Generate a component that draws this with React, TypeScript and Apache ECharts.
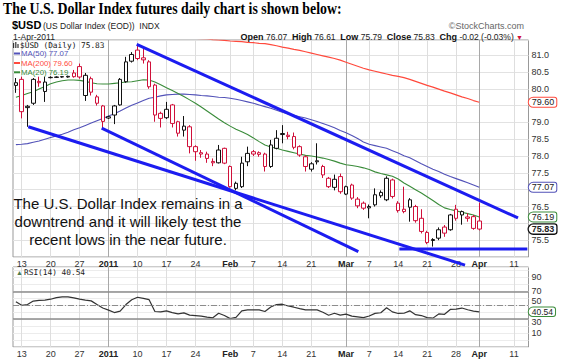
import React, { useEffect, useRef } from "react";
import * as echarts from "echarts";

// ---------- categories (weekdays, Dec 10 2010 .. Apr 13 2011) ----------
const firstDay = "2010-12-10";
const dayCount = 89;
function buildWeekdays(start: string, n: number): string[] {
  const out: string[] = [];
  const d = new Date(start + "T00:00:00Z");
  while (out.length < n) {
    const wd = d.getUTCDay();
    if (wd !== 0 && wd !== 6) out.push(d.toISOString().slice(0, 10));
    d.setUTCDate(d.getUTCDate() + 1);
  }
  return out;
}
const categories = buildWeekdays(firstDay, dayCount);

// ---------- tick labels ----------
const tickDates = [
  "2010-12-13", "2010-12-20", "2010-12-27", "2011-01-03", "2011-01-10", "2011-01-17",
  "2011-01-24", "2011-02-01", "2011-02-07", "2011-02-14", "2011-02-21", "2011-03-01",
  "2011-03-07", "2011-03-14", "2011-03-21", "2011-03-28", "2011-04-01", "2011-04-11",
];
const tickTexts = ["13", "20", "27", "2011", "10", "17", "24", "Feb", "7", "14", "21", "Mar", "7", "14", "21", "28", "Apr", "11"];
const boldTickTexts = ["2011", "Feb", "Mar", "Apr"];
const majorDates = ["2011-01-03", "2011-03-01", "2011-04-01"];
const rsiTickLabels = [10, 30, 50, 70, 90];

// ---------- price data (Dec 10 2010 .. Apr 1 2011) ----------
const opens = [
  80.10, 80.28, 79.48, 79.57, 80.22, 79.92, 80.33, 80.34, 80.35, 80.35,
  80.47, 80.66, 79.80, 80.30, 79.76, 79.49, 79.17, 79.22, 79.52, 80.21,
  80.82, 81.15, 80.92, 80.80, 80.11, 79.27, 79.14, 79.52, 79.02, 78.77,
  78.87, 78.28, 78.10, 78.06, 77.84, 77.80, 78.23, 77.69, 77.04, 77.09,
  77.83, 78.13, 78.10, 78.06, 77.69, 78.23, 78.67, 78.58, 78.58, 78.28,
  77.98, 77.61, 77.86, 77.69, 77.34, 77.07, 77.39, 76.87, 77.14, 76.72,
  76.60, 76.50, 76.55, 76.82, 76.70, 77.29, 76.60, 76.42, 76.48, 76.50,
  76.15, 75.73, 75.52, 75.56, 75.89, 75.81, 76.42, 76.25, 76.19, 76.20,
  76.07,
];
const closes = [
  80.18, 79.32, 79.44, 80.28, 80.18, 80.20, 80.34, 80.35, 80.36, 80.37,
  80.36, 80.35, 80.40, 79.90, 79.57, 79.03, 79.13, 79.49, 80.28, 80.80,
  81.02, 80.90, 80.86, 80.06, 79.22, 79.12, 79.39, 78.97, 78.68, 78.89,
  78.28, 78.13, 78.06, 77.93, 77.80, 78.18, 77.79, 77.09, 77.19, 77.79,
  78.08, 78.06, 78.05, 77.69, 78.33, 78.53, 78.64, 78.62, 78.26, 78.03,
  77.69, 77.77, 77.83, 77.44, 77.09, 77.31, 76.94, 77.09, 76.75, 76.52,
  76.45, 76.46, 76.85, 76.92, 77.34, 76.80, 76.38, 76.35, 76.70, 76.08,
  75.76, 75.43, 75.49, 75.81, 75.71, 76.25, 76.15, 76.35, 76.15, 75.85,
  75.83,
];
const lows = [
  79.88, 79.12, 78.87, 79.52, 80.06, 79.61, 80.31, 80.32, 80.33, 80.33,
  80.33, 80.30, 79.64, 79.80, 79.50, 78.82, 79.10, 78.95, 79.50, 80.18,
  80.78, 80.85, 80.75, 80.00, 79.02, 78.85, 79.10, 78.85, 78.58, 78.58,
  78.08, 77.86, 77.95, 77.80, 77.70, 77.78, 77.76, 77.06, 76.98, 77.05,
  77.70, 78.00, 77.98, 77.54, 77.65, 78.20, 78.38, 78.50, 78.20, 77.98,
  77.54, 77.54, 77.75, 77.35, 77.05, 76.98, 76.88, 76.84, 76.70, 76.45,
  76.40, 76.15, 76.50, 76.76, 76.66, 76.74, 76.32, 76.30, 76.05, 76.02,
  75.70, 75.38, 75.31, 75.50, 75.60, 75.78, 76.08, 75.96, 76.05, 75.81,
  75.79,
];
const highs = [
  80.32, 80.36, 79.52, 80.32, 80.36, 80.36, 80.37, 80.37, 80.38, 80.39,
  80.56, 80.75, 80.47, 80.36, 79.82, 79.52, 79.20, 79.52, 80.32, 80.95,
  81.09, 81.32, 81.20, 80.85, 80.15, 79.32, 79.61, 79.55, 79.05, 79.19,
  78.92, 78.32, 78.18, 78.13, 77.93, 78.33, 78.25, 77.72, 77.24, 77.98,
  78.28, 78.18, 78.14, 78.10, 78.48, 78.77, 78.92, 78.72, 78.70, 78.32,
  78.02, 77.82, 78.38, 77.74, 77.38, 77.45, 77.48, 77.12, 77.18, 76.78,
  76.65, 76.56, 77.04, 76.98, 77.40, 77.33, 76.66, 77.09, 76.75, 76.55,
  76.42, 75.78, 75.56, 75.88, 75.95, 76.28, 76.55, 76.38, 76.30, 76.25,
  76.61,
];

// ---------- moving averages ----------
const ma20 = [
  79.75, 79.80, 79.86, 79.91, 79.99, 80.07, 80.15, 80.20, 80.24, 80.26,
  80.26, 80.25, 80.22, 80.18, 80.15, 80.14, 80.14, 80.16, 80.18, 80.20,
  80.21, 80.24, 80.27, 80.26, 80.20, 80.12, 80.03, 79.95, 79.86, 79.77,
  79.67, 79.57, 79.46, 79.34, 79.22, 79.10, 78.99, 78.89, 78.80, 78.72,
  78.64, 78.54, 78.43, 78.33, 78.27, 78.23, 78.18, 78.14, 78.10, 78.06,
  78.02, 78.00, 77.97, 77.94, 77.90, 77.85, 77.79, 77.74, 77.72, 77.69,
  77.65, 77.60, 77.53, 77.48, 77.44, 77.40, 77.32, 77.20, 77.10, 77.00,
  76.90, 76.79, 76.68, 76.56, 76.46, 76.41, 76.37, 76.33, 76.29, 76.25,
  76.19,
];
const ma50 = [
  78.34, 78.35, 78.37, 78.41, 78.45, 78.50, 78.55, 78.60, 78.65, 78.71,
  78.78, 78.84, 78.91, 78.98, 79.05, 79.12, 79.19, 79.26, 79.34, 79.43,
  79.51, 79.58, 79.65, 79.72, 79.75, 79.79, 79.82, 79.83, 79.84, 79.84,
  79.83, 79.82, 79.80, 79.79, 79.77, 79.75, 79.74, 79.72, 79.69, 79.65,
  79.61, 79.57, 79.52, 79.47, 79.42, 79.36, 79.30, 79.25, 79.21, 79.17,
  79.13, 79.08, 79.03, 78.97, 78.91, 78.84, 78.76, 78.69, 78.61, 78.52,
  78.42, 78.35, 78.31, 78.27, 78.23, 78.16, 78.09, 78.01, 77.95, 77.86,
  77.77, 77.69, 77.61, 77.54, 77.46, 77.39, 77.33, 77.27, 77.21, 77.14,
  77.07,
];
const ma200 = [
  null, null, null, null, null, null, null, null, null, null,
  null, null, null, null, null, null, null, null, null, null,
  null, null, null, null, null, null, null, null, null, null,
  81.52, 81.50, 81.49, 81.48, 81.46, 81.45, 81.44, 81.42, 81.41, 81.40,
  81.38, 81.37, 81.35, 81.34, 81.31, 81.28, 81.24, 81.21, 81.17, 81.14,
  81.10, 81.06, 81.02, 80.98, 80.94, 80.90, 80.85, 80.79, 80.73, 80.67,
  80.61, 80.56, 80.52, 80.48, 80.44, 80.40, 80.37, 80.33, 80.28, 80.22,
  80.16, 80.10, 80.05, 79.99, 79.93, 79.88, 79.82, 79.76, 79.71, 79.65,
  79.60,
];

// ---------- RSI(14) ----------
const rsi = [
  55, 50, 51, 56, 57, 57.5, 58.7, 61, 62, 62,
  60.5, 58.7, 57.3, 56.3, 51, 46, 43, 39.5, 41.5, 51,
  58, 61.5, 60, 58, 41, 40.5, 42, 39.5, 37.5, 39,
  35.8, 35.2, 34.5, 33, 32, 38.5, 35.3, 30.8, 32.5, 42,
  43.3, 43.3, 43.3, 41, 47.5, 51, 51.5, 49, 47.2, 45.2,
  43.3, 43.3, 43.3, 40, 35.6, 38.5, 35.8, 37.3, 34.3, 33.3,
  32.2, 34.5, 38.3, 39.2, 46.5, 40.5, 38.2, 38.5, 42, 36.5,
  35.2, 32.2, 31.5, 37.5, 37, 44, 44.4, 46, 43.5, 41.5,
  40.54,
];

// ---------- hand-drawn trend lines (x = trading-day index, y = price) ----------
const resistanceLine = [[20.86, 81.32], [86.69, 76.16]];
const supportLineA = [[2.14, 78.87], [77.54, 74.76]];
const supportLineB = [[14.81, 78.83], [59.12, 75.16]];
const recentLowsLine = [[66.2, 75.24], [88.3, 75.24]];

// ---------- last values ----------
const lastDate = "2011-04-01";
const lastClose = 75.83;
const lastMa50 = 77.07;
const lastMa200 = 79.6;
const lastMa20 = 76.19;
const lastRsi = 40.54;

const RED = "#d0103a";
const BLACK = "#111111";
const MA50_COLOR = "#5252b8";
const MA200_COLOR = "#ff4a3d";
const MA20_COLOR = "#3a8c3a";
const TREND_COLOR = "#1c1cf0";
const FONT = "'Liberation Sans', Arial, sans-serif";
const MONO = "'DejaVu Sans Mono', monospace";

function tag(cat: string, val: number, text: string, border: string, bold = false, size = 9) {
  return {
    symbol: "circle",
    symbolSize: 1,
    silent: true,
    itemStyle: { color: "rgba(0,0,0,0)" },
    label: {
      show: true,
      position: "right",
      distance: 0,
      offset: [49, 0],
      formatter: text,
      color: "#222",
      fontSize: size,
      fontFamily: FONT,
      fontWeight: bold ? "bold" : "normal",
      backgroundColor: "#fff",
      borderColor: border,
      borderWidth: bold ? 1.3 : 1,
      borderRadius: [5, 2, 2, 5],
      padding: [0, 2, 0, 3],
      lineHeight: size,
    },
    data: [{ coord: [cat, val] }],
  };
}

function catAxis(gridIndex: number, withLabels: boolean, major: boolean) {
  return {
    type: "category",
    gridIndex,
    data: categories,
    boundaryGap: true,
    axisLine: { show: false },
    axisTick: { show: false },
    axisLabel: withLabels
      ? {
          show: true,
          interval: (_i: number, v: string) => tickDates.indexOf(v) >= 0,
          formatter: (v: string) => {
            const k = tickDates.indexOf(v);
            if (k < 0) return "";
            const t = tickTexts[k];
            return boldTickTexts.indexOf(t) >= 0 ? "{b|" + t + "}" : t;
          },
          fontSize: 9,
          color: "#333",
          fontFamily: FONT,
          margin: 2,
          rich: { b: { fontWeight: "bold", fontSize: 9, color: "#222", fontFamily: FONT } },
        }
      : { show: false },
    splitLine: {
      show: true,
      alignWithLabel: true,
      interval: (_i: number, v: string) =>
        major ? majorDates.indexOf(v) >= 0 : tickDates.indexOf(v) >= 0 && majorDates.indexOf(v) < 0,
      lineStyle: { color: major ? "#a8a8a8" : "#dedede", width: 1 },
    },
  };
}

function txt(x: number, y: number, text: string, size: number, opts: any = {}) {
  return {
    type: "text",
    x,
    y,
    z: 20,
    scaleX: opts.scaleX || 1,
    style: {
      text,
      fill: opts.fill || "#111",
      fontSize: size,
      fontFamily: opts.family || FONT,
      fontWeight: opts.weight || "normal",
      textAlign: opts.align || "left",
      align: opts.align || "left",
      textVerticalAlign: "middle",
      verticalAlign: "middle",
      rich: opts.rich,
    },
  };
}

function buildOption(): any {
  const candleData = opens.map((o, i) => {
    const c = closes[i];
    const prev = i > 0 ? closes[i - 1] : c;
    const col = c < prev ? RED : BLACK;
    return {
      value: [o, c, lows[i], highs[i]],
      itemStyle: { color: "#fff", color0: col, borderColor: col, borderColor0: col, borderColorDoji: col, borderWidth: 1 },
    };
  });

  const trend = (data: number[][]) => ({
    type: "line",
    xAxisIndex: 2,
    yAxisIndex: 0,
    data,
    symbol: "none",
    clip: false,
    silent: true,
    z: 6,
    lineStyle: { color: TREND_COLOR, width: 3 },
  });

  const ohlcText =
    "{b|Open} 76.07  {b|High} 76.61  {b|Low} 75.79  {b|Close} 75.83  {b|Chg} -0.02 (-0.03%) {r|▼}";

  return {
    animation: false,
    backgroundColor: "#fff",
    textStyle: { fontFamily: FONT },
    grid: [
      { left: 13, top: 40, width: 515.5, height: 217, show: true, borderColor: "#999", borderWidth: 1, backgroundColor: "rgba(0,0,0,0)" },
      { left: 13, top: 267, width: 515.5, height: 80, show: true, borderColor: "#999", borderWidth: 1, backgroundColor: "rgba(0,0,0,0)" },
    ],
    xAxis: [
      catAxis(0, true, false),
      catAxis(0, false, true),
      { type: "value", gridIndex: 0, min: -0.5, max: dayCount - 0.5, show: false },
      catAxis(1, true, false),
      catAxis(1, false, true),
    ],
    yAxis: [
      {
        type: "value",
        gridIndex: 0,
        position: "right",
        min: 75,
        max: 81.45,
        interval: 0.5,
        axisLine: { show: false },
        axisTick: { show: false },
        axisLabel: {
          margin: 3,
          fontSize: 9,
          color: "#333",
          fontFamily: FONT,
          formatter: (v: number) => {
            const twice = v * 2;
            if (Math.abs(twice - Math.round(twice)) > 1e-6) return "";
            const hidden = [75, 76, 77, 79.5];
            for (const h of hidden) if (Math.abs(v - h) < 1e-6) return "";
            return v.toFixed(1);
          },
        },
        splitLine: { show: true, lineStyle: { color: "#e2e2e2" } },
      },
      {
        type: "value",
        gridIndex: 1,
        position: "right",
        min: -10,
        max: 105,
        interval: 10,
        axisLine: { show: false },
        axisTick: { show: false },
        axisLabel: {
          margin: 3,
          fontSize: 9,
          color: "#333",
          fontFamily: FONT,
          formatter: (v: number) => {
            const r = Math.round(v);
            if (Math.abs(v - r) > 1e-6 || rsiTickLabels.indexOf(r) < 0) return "";
            if (r === 50) return "{u|50}";
            if (r === 30) return "{d|30}";
            return String(r);
          },
          rich: {
            u: { fontSize: 9, color: "#333", fontFamily: FONT, padding: [0, 0, 8, 0] },
            d: { fontSize: 9, color: "#333", fontFamily: FONT, padding: [5, 0, 0, 0] },
          },
        },
        splitLine: { show: true, lineStyle: { color: "#ececec" } },
      },
    ],
    series: [
      {
        name: "MA(200)",
        type: "line",
        xAxisIndex: 0,
        yAxisIndex: 0,
        data: ma200,
        symbol: "none",
        lineStyle: { color: MA200_COLOR, width: 1.2 },
        markPoint: tag(lastDate, lastMa200, "79.60", MA200_COLOR),
      },
      {
        name: "MA(50)",
        type: "line",
        xAxisIndex: 0,
        yAxisIndex: 0,
        data: ma50,
        symbol: "none",
        lineStyle: { color: MA50_COLOR, width: 1.1 },
        markPoint: tag(lastDate, lastMa50, "77.07", MA50_COLOR),
      },
      {
        name: "MA(20)",
        type: "line",
        xAxisIndex: 0,
        yAxisIndex: 0,
        data: ma20,
        symbol: "none",
        lineStyle: { color: MA20_COLOR, width: 1.1 },
        markPoint: tag(lastDate, lastMa20, "76.19", MA20_COLOR),
      },
      {
        name: "$USD",
        type: "candlestick",
        xAxisIndex: 0,
        yAxisIndex: 0,
        data: candleData,
        barWidth: 4,
        z: 3,
        markPoint: tag(lastDate, lastClose, "75.83", "#111", true),
      },
      trend(resistanceLine),
      trend(supportLineA),
      trend(supportLineB),
      trend(recentLowsLine),
      {
        name: "RSI(14)",
        type: "line",
        xAxisIndex: 3,
        yAxisIndex: 1,
        data: rsi,
        symbol: "none",
        z: 4,
        lineStyle: { color: "#333", width: 1.2 },
        markLine: {
          silent: true,
          symbol: ["none", "none"],
          label: { show: false },
          lineStyle: { color: "#8c8c8c", width: 1.5, type: "solid" },
          data: [
            { yAxis: 70 },
            { yAxis: 30 },
            { yAxis: 50, lineStyle: { color: "#8c8c8c", width: 1, type: [6, 2, 1, 2] } },
          ],
        },
        markPoint: tag(lastDate, lastRsi, "40.54", MA20_COLOR, false, 8.5),
      },
    ],
    graphic: [
      txt(3, 8.5, "The U.S. Dollar Index futures daily chart is shown below:", 16, {
        family: "'Liberation Serif', 'Times New Roman', serif",
        weight: "bold",
        scaleX: 0.865,
        fill: "#000",
      }),
      txt(12, 25, "$USD", 11, { weight: "bold", fill: "#000" }),
      txt(43, 25.5, "(US Dollar Index (EOD))  INDX", 8.5, { fill: "#222" }),
      txt(524, 25.5, "©StockCharts.com", 9, { align: "right", fill: "#666" }),
      txt(13, 37, "1-Apr-2011", 8.5, { fill: "#222" }),
      txt(523, 37, ohlcText, 8.5, {
        align: "right",
        fill: "#222",
        rich: {
          b: { fontWeight: "bold", fontSize: 9, fontFamily: FONT, fill: "#111", color: "#111" },
          r: { fontSize: 7, fill: RED, color: RED, fontFamily: FONT },
        },
      }),
      // price legend
      { type: "rect", z: 20, shape: { x: 13, y: 43, width: 1.2, height: 5 }, style: { fill: "#333" } },
      { type: "rect", z: 20, shape: { x: 15.2, y: 42, width: 1.2, height: 6 }, style: { fill: "#333" } },
      { type: "rect", z: 20, shape: { x: 17.4, y: 44, width: 1.2, height: 4 }, style: { fill: "#333" } },
      txt(20, 45.5, "$USD (Daily) 75.83", 7.8, { family: MONO, fill: "#111" }),
      { type: "line", z: 20, shape: { x1: 14, y1: 53.5, x2: 20, y2: 53.5 }, style: { stroke: MA50_COLOR, lineWidth: 2 } },
      txt(21, 53.5, "MA(50) 77.07", 7.8, { fill: MA50_COLOR }),
      { type: "line", z: 20, shape: { x1: 14, y1: 63, x2: 20, y2: 63 }, style: { stroke: MA200_COLOR, lineWidth: 2 } },
      txt(21, 63, "MA(200) 79.60", 7.8, { fill: MA200_COLOR }),
      { type: "line", z: 20, shape: { x1: 14, y1: 72.3, x2: 20, y2: 72.3 }, style: { stroke: MA20_COLOR, lineWidth: 2 } },
      txt(21, 72.3, "MA(20) 76.19", 7.8, { fill: MA20_COLOR }),
      // RSI legend
      txt(16, 272.5, "▲", 7, { fill: "#4d7a4d" }),
      txt(24, 272.8, "RSI(14) 40.54", 7.8, { family: MONO, fill: "#222" }),
      // annotation
      txt(128, 203, "The U.S. Dollar Index remains in a", 15, { align: "center", fill: "#111" }),
      txt(128, 221.3, "downtrend and it will likely test the", 15, { align: "center", fill: "#111" }),
      txt(128, 239.5, "recent lows in the near future.", 15, { align: "center", fill: "#111" }),
    ],
  };
}

export default function App() {
  const ref = useRef<HTMLDivElement>(null);
  useEffect(() => {
    document.body.style.margin = "0";
    const chart = echarts.init(ref.current as HTMLDivElement, undefined, { renderer: "svg" });
    chart.setOption(buildOption());
    return () => chart.dispose();
  }, []);
  return <div ref={ref} style={{ width: 564, height: 363 }} />;
}
